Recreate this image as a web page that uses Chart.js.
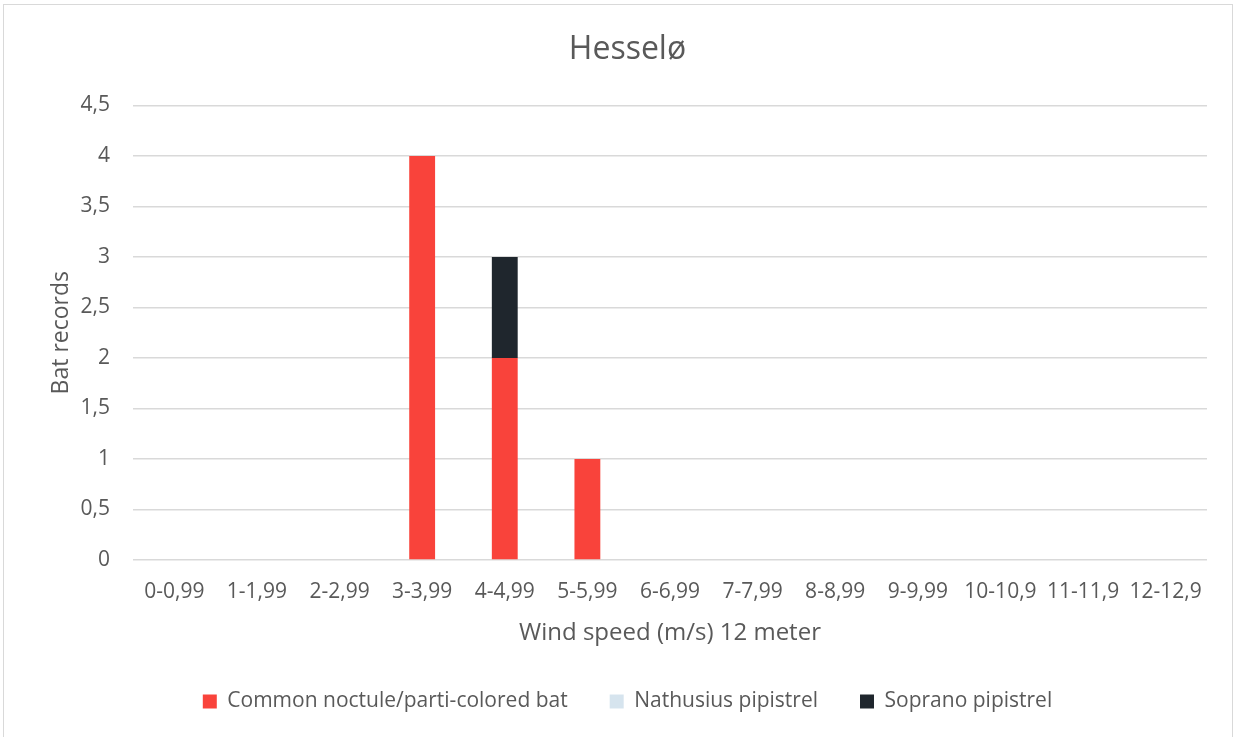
<!DOCTYPE html>
<html>
<head>
<meta charset="utf-8">
<script src="https://cdn.jsdelivr.net/npm/chart.js@4"></script>
<style>
  html, body { margin: 0; padding: 0; background: #fff; }
  #wrap { width: 1236px; height: 737px; position: relative; }
</style>
</head>
<body>
<div id="wrap"><canvas id="batChart" width="1236" height="737"></canvas></div>
<script>
const windClasses = ["0-0,99", "1-1,99", "2-2,99", "3-3,99", "4-4,99", "5-5,99", "6-6,99",
  "7-7,99", "8-8,99", "9-9,99", "10-10,9", "11-11,9", "12-12,9"];
const commonNoctule = [0, 0, 0, 4, 2, 1, 0, 0, 0, 0, 0, 0, 0];
const nathusius = [0, 0, 0, 0, 0, 0, 0, 0, 0, 0, 0, 0, 0];
const soprano = [0, 0, 0, 0, 1, 0, 0, 0, 0, 0, 0, 0, 0];

const fontFamily = "'Open Sans', 'Noto Sans', sans-serif";
const textColor = "#595959";

// white background + thin outer frame like the exported chart
const framePlugin = {
  id: "frame",
  beforeDraw(chart) {
    const ctx = chart.ctx;
    ctx.save();
    ctx.fillStyle = "#fff";
    ctx.fillRect(0, 0, chart.width, chart.height);
    ctx.strokeStyle = "#d9d9d9";
    ctx.lineWidth = 1;
    ctx.strokeRect(3.5, 4.5, chart.width - 7, chart.height + 10);
    ctx.restore();
  },
};

new Chart(document.getElementById("batChart").getContext("2d"), {
  type: "bar",
  data: {
    labels: windClasses,
    datasets: [
      { label: "Common noctule/parti-colored bat", data: commonNoctule, backgroundColor: "#F9433B" },
      { label: "Nathusius pipistrel", data: nathusius, backgroundColor: "#D6E4EE" },
      { label: "Soprano pipistrel", data: soprano, backgroundColor: "#1F262D" },
    ],
  },
  options: {
    responsive: false,
    animation: false,
    layout: { padding: { left: 48, right: 29, top: 10, bottom: 15 } },
    datasets: {
      bar: { categoryPercentage: 1, barPercentage: 0.313, borderWidth: 0 },
    },
    plugins: {
      title: {
        display: true,
        text: "Hesselø",
        color: textColor,
        font: { family: fontFamily, size: 32, weight: "normal" },
        padding: { top: 21, bottom: 36 },
      },
      legend: {
        position: "bottom",
        labels: {
          color: textColor,
          font: { family: fontFamily, size: 21 },
          boxWidth: 14,
          boxHeight: 14,
          padding: 42,
        },
      },
      tooltip: { enabled: false },
    },
    scales: {
      x: {
        stacked: true,
        grid: { display: false, drawTicks: false },
        border: { display: false },
        ticks: {
          color: textColor,
          font: { family: fontFamily, size: 21 },
          maxRotation: 0,
          autoSkip: false,
          padding: 19,
        },
        title: {
          display: true,
          text: "Wind speed (m/s) 12 meter",
          color: textColor,
          font: { family: fontFamily, size: 24 },
          padding: { top: 0, bottom: 1 },
        },
        afterFit: (scale) => { scale.height = 89; },
      },
      y: {
        stacked: true,
        min: 0,
        max: 4.5,
        grid: { color: "#d9d9d9", lineWidth: 1.5, drawTicks: false },
        border: { display: false },
        ticks: {
          stepSize: 0.5,
          color: textColor,
          font: { family: fontFamily, size: 21 },
          padding: 23,
          callback: (value) => String(value).replace(".", ","),
        },
        title: {
          display: true,
          text: "Bat records",
          color: textColor,
          font: { family: fontFamily, size: 23 },
          padding: { top: 0, bottom: 5 },
        },
        afterFit: (scale) => { scale.width = 85; },
      },
    },
  },
  plugins: [framePlugin],
});
</script>
</body>
</html>
